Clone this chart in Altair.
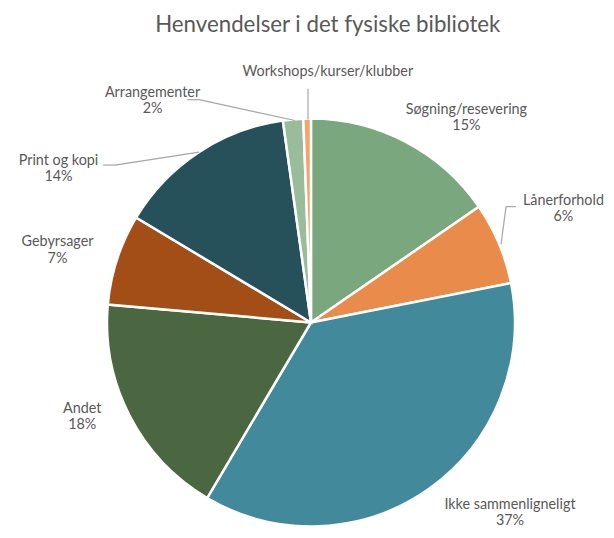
import math
import altair as alt
import pandas as pd

# ---- data ----
categories = ["Søgning/resevering", "Lånerforhold", "Ikke sammenligneligt", "Andet",
              "Gebyrsager", "Print og kopi", "Arrangementer", "Workshops/kurser/klubber"]
shares = [15.4, 6.5, 36.6, 17.9, 7.2, 14.2, 1.6, 0.6]
pct_labels = ["15%", "6%", "37%", "18%", "7%", "14%", "2%", ""]
colors = ["#7BA77F", "#E98B4B", "#428A9B", "#4A6741", "#A34E17", "#27515A", "#99BC9B", "#F4A46E"]
title_text = "Henvendelser i det fysiske bibliotek"

# ---- layout (view pixels) ----
W, H = 604, 522
CX, CY, R = 306, 315, 206
FONT = "Lato"
TXT = "#595959"

# label anchor offsets from pie centre (first text line)
label_off = {
    "Søgning/resevering": (157, -215),
    "Lånerforhold": (255, -123),
    "Ikke sammenligneligt": (201, 184),
    "Andet": (-231, 87),
    "Gebyrsager": (-256, -81),
    "Print og kopi": (-255, -163),
    "Arrangementer": (-160, -232),
    "Workshops/kurser/klubber": (17, -253),
}
# leader line polylines, offsets from pie centre
leaders = [
    [(-3, -205), (-3, -236)],
    [(192, -79), (197, -117), (207, -117)],
    [(-113, -172), (-198, -159), (-210, -159)],
    [(-16, -204), (-113, -225), (-125, -225)],
]

df = pd.DataFrame({"cat": categories, "share": shares, "order": list(range(len(categories)))})

pie = alt.Chart(df).mark_arc(outerRadius=R, stroke="white", strokeWidth=2.5).encode(
    theta=alt.Theta("share:Q", stack=True),
    order=alt.Order("order:Q"),
    color=alt.Color("cat:N", scale=alt.Scale(domain=categories, range=colors), legend=None),
    x=alt.value(CX), y=alt.value(CY),
)

lab_rows = []
for c, p in zip(categories, pct_labels):
    dx, dy = label_off[c]
    lab_rows.append({"x": CX + dx, "y": CY + dy, "t": c + ("\n" + p if p else "")})
labels = alt.Chart(pd.DataFrame(lab_rows)).mark_text(
    font=FONT, fontSize=14.5, color=TXT, align="center", baseline="middle",
    lineBreak="\n", lineHeight=16.5,
).encode(
    x=alt.X("x:Q", scale=None), y=alt.Y("y:Q", scale=None), text="t:N"
)

seg_rows = []
for poly in leaders:
    for (a, b) in zip(poly[:-1], poly[1:]):
        seg_rows.append({"x": CX + a[0], "y": CY + a[1], "x2": CX + b[0], "y2": CY + b[1]})
rules = alt.Chart(pd.DataFrame(seg_rows)).mark_rule(color="#A6A6A6", strokeWidth=1.2).encode(
    x=alt.X("x:Q", scale=None), y=alt.Y("y:Q", scale=None),
    x2="x2:Q", y2="y2:Q",
)

title = alt.Chart(pd.DataFrame({"t": [title_text]})).mark_text(
    font=FONT, fontSize=22.5, color=TXT, align="center", baseline="middle",
).encode(x=alt.value(323), y=alt.value(15), text="t:N")

chart = alt.layer(pie, rules, labels, title).properties(
    width=W, height=H, autosize=alt.AutoSizeParams(type="none"), padding=0
).configure_view(stroke=None)

chart.save("out.html", embed_options={"renderer": "svg", "actions": False})
